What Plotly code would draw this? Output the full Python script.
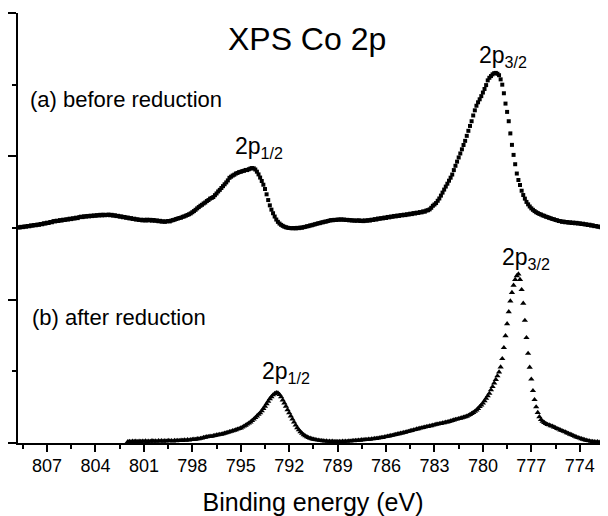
import plotly.graph_objects as go

# ---------------- data ----------------
# Binding-energy grid of each scan: start energy, step (eV)
start_a = 808.8
start_b = 802.0
step_ev = 0.1

# (a) before reduction, one value per 0.1 eV starting at 808.8 eV (rows of 1 eV)
int_a = [
    1.505, 1.503, 1.508, 1.506, 1.511, 1.509, 1.514, 1.512, 1.518, 1.516,  # 808.8-807.9
    1.521, 1.519, 1.524, 1.522, 1.528, 1.526, 1.533, 1.531, 1.537, 1.535,  # 807.8-806.9
    1.542, 1.540, 1.548, 1.546, 1.551, 1.549, 1.555, 1.552, 1.558, 1.556,  # 806.8-805.9
    1.561, 1.559, 1.565, 1.562, 1.568, 1.566, 1.572, 1.569, 1.576, 1.579,  # 805.8-804.9
    1.576, 1.582, 1.579, 1.584, 1.581, 1.586, 1.583, 1.588, 1.585, 1.590,  # 804.8-803.9
    1.587, 1.592, 1.588, 1.593, 1.589, 1.591, 1.594, 1.589, 1.592, 1.586,  # 803.8-802.9
    1.589, 1.583, 1.585, 1.579, 1.581, 1.575, 1.577, 1.571, 1.573, 1.567,  # 802.8-801.9
    1.569, 1.563, 1.565, 1.559, 1.561, 1.556, 1.558, 1.553, 1.557, 1.552,  # 801.8-800.9
    1.558, 1.553, 1.557, 1.551, 1.556, 1.550, 1.553, 1.547, 1.550, 1.544,  # 800.8-799.9
    1.547, 1.543, 1.546, 1.549, 1.546, 1.552, 1.555, 1.558, 1.563, 1.566,  # 799.8-798.9
    1.570, 1.572, 1.578, 1.581, 1.586, 1.591, 1.596, 1.602, 1.610, 1.618,  # 798.8-797.9
    1.627, 1.637, 1.646, 1.655, 1.662, 1.671, 1.678, 1.688, 1.695, 1.705,  # 797.8-796.9
    1.710, 1.716, 1.729, 1.741, 1.755, 1.766, 1.779, 1.792, 1.805, 1.818,  # 796.8-795.9
    1.832, 1.850, 1.858, 1.866, 1.872, 1.880, 1.884, 1.890, 1.892, 1.897,  # 795.8-794.9
    1.899, 1.905, 1.904, 1.910, 1.915, 1.918, 1.916, 1.908, 1.893, 1.874,  # 794.8-793.9
    1.852, 1.828, 1.802, 1.772, 1.735, 1.695, 1.658, 1.628, 1.603, 1.580,  # 793.8-792.9
    1.559, 1.543, 1.531, 1.522, 1.515, 1.509, 1.505, 1.502, 1.500, 1.499,  # 792.8-791.9
    1.498, 1.500, 1.497, 1.501, 1.499, 1.503, 1.502, 1.506, 1.508, 1.512,  # 791.8-790.9
    1.513, 1.518, 1.519, 1.523, 1.526, 1.529, 1.533, 1.534, 1.539, 1.540,  # 790.8-789.9
    1.544, 1.545, 1.549, 1.552, 1.555, 1.554, 1.557, 1.556, 1.559, 1.558,  # 789.8-788.9
    1.560, 1.558, 1.559, 1.556, 1.557, 1.554, 1.555, 1.552, 1.553, 1.551,  # 788.8-787.9
    1.551, 1.554, 1.549, 1.552, 1.548, 1.553, 1.550, 1.555, 1.552, 1.558,  # 787.8-786.9
    1.556, 1.562, 1.559, 1.566, 1.564, 1.569, 1.567, 1.573, 1.570, 1.577,  # 786.8-785.9
    1.574, 1.580, 1.578, 1.584, 1.581, 1.587, 1.584, 1.590, 1.588, 1.593,  # 785.8-784.9
    1.590, 1.596, 1.594, 1.600, 1.597, 1.604, 1.601, 1.607, 1.605, 1.611,  # 784.8-783.9
    1.609, 1.616, 1.614, 1.622, 1.624, 1.630, 1.641, 1.655, 1.664, 1.674,  # 783.8-782.9
    1.690, 1.706, 1.726, 1.747, 1.768, 1.789, 1.809, 1.830, 1.851, 1.873,  # 782.8-781.9
    1.904, 1.934, 1.963, 1.992, 2.020, 2.049, 2.079, 2.108, 2.143, 2.178,  # 781.8-780.9
    2.212, 2.245, 2.285, 2.321, 2.353, 2.377, 2.398, 2.420, 2.445, 2.470,  # 780.8-779.9
    2.497, 2.530, 2.548, 2.560, 2.572, 2.580, 2.582, 2.576, 2.566, 2.537,  # 779.8-778.9
    2.500, 2.440, 2.368, 2.310, 2.245, 2.160, 2.080, 2.010, 1.945, 1.880,  # 778.8-777.9
    1.835, 1.800, 1.760, 1.730, 1.705, 1.682, 1.665, 1.650, 1.637, 1.627,  # 777.8-776.9
    1.618, 1.610, 1.604, 1.598, 1.594, 1.588, 1.585, 1.579, 1.576, 1.571,  # 776.8-775.9
    1.568, 1.563, 1.561, 1.556, 1.554, 1.549, 1.548, 1.543, 1.545, 1.540,  # 775.8-774.9
    1.542, 1.537, 1.540, 1.535, 1.538, 1.533, 1.536, 1.531, 1.533, 1.528,  # 774.8-773.9
    1.530, 1.525, 1.526, 1.521, 1.523, 1.517, 1.519, 1.513, 1.514, 1.509,  # 773.8-772.9
    1.510, 1.505, 1.506, 1.501, 1.502, 1.498,                              # 772.8-772.3
]

# (b) after reduction, one value per 0.1 eV starting at 802.0 eV
int_b = [
    0.009, 0.011, 0.008, 0.012, 0.010, 0.013, 0.009, 0.012, 0.010, 0.013,  # 802.0-801.1
    0.011, 0.014, 0.010, 0.013, 0.011, 0.015, 0.012, 0.014, 0.011, 0.015,  # 801.0-800.1
    0.013, 0.016, 0.012, 0.015, 0.013, 0.017, 0.014, 0.016, 0.013, 0.017,  # 800.0-799.1
    0.015, 0.018, 0.016, 0.019, 0.017, 0.021, 0.018, 0.022, 0.020, 0.023,  # 799.0-798.1
    0.024, 0.026, 0.025, 0.029, 0.028, 0.032, 0.034, 0.038, 0.040, 0.043,  # 798.0-797.1
    0.044, 0.047, 0.046, 0.050, 0.052, 0.055, 0.057, 0.060, 0.061, 0.064,  # 797.0-796.1
    0.068, 0.071, 0.074, 0.078, 0.081, 0.085, 0.088, 0.092, 0.096, 0.100,  # 796.0-795.1
    0.104, 0.110, 0.117, 0.123, 0.131, 0.138, 0.146, 0.156, 0.166, 0.177,  # 795.0-794.1
    0.188, 0.199, 0.210, 0.224, 0.240, 0.256, 0.273, 0.291, 0.308, 0.322,  # 794.0-793.1
    0.335, 0.345, 0.351, 0.349, 0.338, 0.321, 0.300, 0.279, 0.256, 0.232,  # 793.0-792.1
    0.210, 0.188, 0.166, 0.145, 0.124, 0.106, 0.091, 0.078, 0.067, 0.057,  # 792.0-791.1
    0.049, 0.043, 0.037, 0.033, 0.029, 0.026, 0.024, 0.021, 0.020, 0.018,  # 791.0-790.1
    0.016, 0.015, 0.013, 0.014, 0.011, 0.012, 0.010, 0.012, 0.009, 0.011,  # 790.0-789.1
    0.009, 0.011, 0.009, 0.012, 0.010, 0.013, 0.011, 0.014, 0.013, 0.016,  # 789.0-788.1
    0.015, 0.018, 0.017, 0.020, 0.019, 0.022, 0.021, 0.024, 0.023, 0.026,  # 788.0-787.1
    0.025, 0.028, 0.028, 0.031, 0.031, 0.034, 0.035, 0.038, 0.038, 0.042,  # 787.0-786.1
    0.044, 0.047, 0.048, 0.052, 0.053, 0.057, 0.059, 0.062, 0.064, 0.068,  # 786.0-785.1
    0.069, 0.073, 0.075, 0.079, 0.081, 0.085, 0.087, 0.091, 0.093, 0.097,  # 785.0-784.1
    0.099, 0.103, 0.105, 0.108, 0.110, 0.114, 0.115, 0.119, 0.120, 0.124,  # 784.0-783.1
    0.126, 0.130, 0.131, 0.135, 0.136, 0.140, 0.141, 0.145, 0.146, 0.150,  # 783.0-782.1
    0.153, 0.157, 0.160, 0.164, 0.166, 0.170, 0.172, 0.176, 0.179, 0.183,  # 782.0-781.1
    0.186, 0.192, 0.198, 0.205, 0.212, 0.220, 0.230, 0.240, 0.253, 0.265,  # 781.0-780.1
    0.278, 0.294, 0.311, 0.328, 0.346, 0.370, 0.393, 0.418, 0.443, 0.468,  # 780.0-779.1
    0.495, 0.530, 0.588, 0.665, 0.748, 0.832, 0.915, 0.990, 1.050, 1.100,  # 779.0-778.1
    1.140, 1.166, 1.179, 1.140, 1.070, 0.975, 0.855, 0.735, 0.625, 0.528,  # 778.0-777.1
    0.445, 0.365, 0.302, 0.252, 0.212, 0.183, 0.163, 0.151, 0.143, 0.136,  # 777.0-776.1
    0.129, 0.126, 0.120, 0.117, 0.111, 0.107, 0.100, 0.096, 0.090, 0.086,  # 776.0-775.1
    0.081, 0.077, 0.071, 0.067, 0.061, 0.057, 0.051, 0.047, 0.041, 0.037,  # 775.0-774.1
    0.034, 0.029, 0.026, 0.022, 0.019, 0.016, 0.014, 0.011, 0.010, 0.008,  # 774.0-773.1
    0.007, 0.009, 0.006, 0.008, 0.007, 0.010, 0.008, 0.009,                # 773.0-772.3
]

x_ticks = [807, 804, 801, 798, 795, 792, 789, 786, 783, 780, 777, 774]
x_tick_labels = [str(v) for v in x_ticks]

title_text = "XPS Co 2p"
x_title = "Binding energy (eV)"
label_a = "(a) before reduction"
label_b = "(b) after reduction"
peak_labels = [
    # text, x (eV), y (a.u.)
    ("2p<sub>3/2</sub>", 780.34, 2.70),
    ("2p<sub>1/2</sub>", 795.50, 2.06),
    ("2p<sub>3/2</sub>", 778.92, 1.29),
    ("2p<sub>1/2</sub>", 793.83, 0.495),
]

# energy axis of each scan (uniform acquisition grid)
be_a = [round(start_a - step_ev * i, 1) for i in range(len(int_a))]
be_b = [round(start_b - step_ev * i, 1) for i in range(len(int_b))]

FONT = "Arial, 'Liberation Sans', sans-serif"

fig = go.Figure()
fig.add_trace(go.Scatter(
    x=be_a, y=int_a, mode="markers", name=label_a,
    marker=dict(symbol="square", size=4, color="black", line=dict(width=0)),
))
fig.add_trace(go.Scatter(
    x=be_b, y=int_b, mode="markers", name=label_b,
    marker=dict(symbol="triangle-up", size=5.5, color="black", line=dict(width=0)),
))

annotations = [
    dict(text=label_a, x=808.19, y=2.394, xanchor="left", yanchor="middle",
         showarrow=False, font=dict(size=22, color="black", family=FONT)),
    dict(text=label_b, x=808.07, y=0.879, xanchor="left", yanchor="middle",
         showarrow=False, font=dict(size=22, color="black", family=FONT)),
]
for txt, xv, yv in peak_labels:
    annotations.append(dict(text=txt, x=xv, y=yv, xanchor="left", yanchor="middle",
                            showarrow=False,
                            font=dict(size=23, color="black", family=FONT)))

# the page body has an 8 px margin: the figure is sized so that the plot
# area lands where it sits in the 608x516 reference
fig.update_layout(
    width=600, height=508,
    margin=dict(l=10, r=0, t=5, b=73),
    paper_bgcolor="white", plot_bgcolor="white",
    showlegend=False,
    font=dict(family=FONT, color="black"),
    title=dict(text=title_text, x=0.49, xref="paper", xanchor="center",
               y=1 - 31 / 508, yanchor="middle",
               font=dict(size=32, color="black", family=FONT)),
    annotations=annotations,
)
fig.update_xaxes(
    range=[808.8, 772.25], showgrid=False, zeroline=False,
    showline=True, linecolor="black", linewidth=2,
    tickmode="array", tickvals=x_ticks, ticktext=x_tick_labels,
    ticks="outside", ticklen=7, tickwidth=2, tickcolor="black",
    ticklabelstandoff=-2,
    tickfont=dict(size=18, color="black", family=FONT),
    minor=dict(tickmode="linear", tick0=807, dtick=1.5, ticks="outside",
               ticklen=4, tickwidth=2, tickcolor="black", showgrid=False),
    title=dict(text=x_title, font=dict(size=25, color="black", family=FONT), standoff=19),
)
fig.update_yaxes(
    range=[0, 3], showgrid=False, zeroline=False,
    showline=True, linecolor="black", linewidth=2,
    tickmode="linear", tick0=0, dtick=1, showticklabels=False,
    ticks="outside", ticklen=8, tickwidth=2, tickcolor="black",
    minor=dict(tickmode="linear", tick0=0, dtick=0.5, ticks="outside",
               ticklen=4, tickwidth=2, tickcolor="black", showgrid=False),
)

fig.write_html("out.html")
